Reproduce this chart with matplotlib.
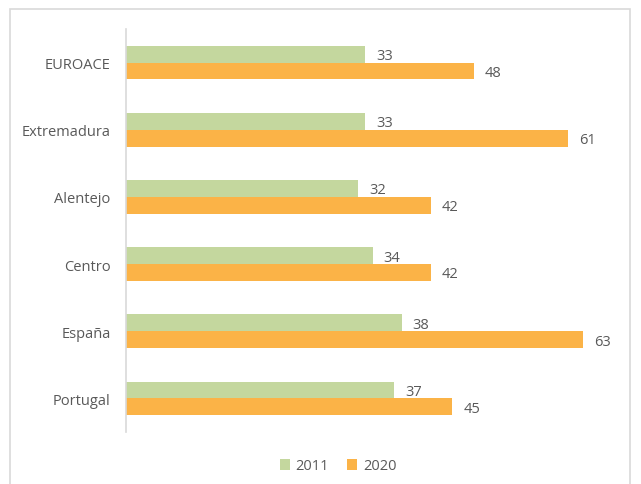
import numpy as np
import matplotlib.pyplot as plt
from matplotlib.patches import Rectangle

regions = ["EUROACE", "Extremadura", "Alentejo", "Centro", "España", "Portugal"]
vals_2011 = [33, 33, 32, 34, 38, 37]
vals_2020 = [48, 61, 42, 42, 63, 45]

GREEN = "#C4D79E"
ORANGE = "#FBB347"
TXT = "#595959"

plt.rcParams['font.family'] = ['Open Sans', 'DejaVu Sans']

fig = plt.figure(figsize=(6.41, 4.85), dpi=100)
ax = fig.add_axes([126 / 641, 1 - 433 / 485, (620 - 126) / 641, (433 - 30) / 485])

# chart border
fig.patches.append(Rectangle((10 / 641, -0.1), (630 - 10) / 641, 1.1 - 10 / 485,
                             transform=fig.transFigure, fill=False,
                             edgecolor="#D9D9D9", linewidth=1.2))

y = np.arange(len(regions))
h = 0.25
b1 = ax.barh(y - h / 2, vals_2011, height=h, color=GREEN, label="2011")
b2 = ax.barh(y + h / 2, vals_2020, height=h, color=ORANGE, label="2020")

for bars in (b1, b2):
    for r in bars:
        ax.annotate(f"{int(r.get_width())}", (r.get_width(), r.get_y() + r.get_height() / 2),
                    xytext=(8, -1), textcoords="offset points", va="center", ha="left",
                    fontsize=10.5, color=TXT)

ax.set_ylim(len(regions) - 0.5, -0.5)
ax.set_xlim(0, (620 - 126) / 7.25)
ax.set_yticks(y)
ax.set_yticklabels(regions, fontsize=10.5, color=TXT)
ax.set_xticks([])
ax.tick_params(axis="y", length=0, pad=11)
for s in ["top", "right", "bottom"]:
    ax.spines[s].set_visible(False)
ax.spines["left"].set_color("#D9D9D9")
ax.spines["left"].set_linewidth(1.2)

leg = fig.legend(handles=[b1, b2], loc="center", bbox_to_anchor=(338 / 641, 1 - 467 / 485),
                 ncol=2, frameon=False, fontsize=10.5, handlelength=0.7, handleheight=0.7,
                 columnspacing=1.2, handletextpad=0.4)
for t in leg.get_texts():
    t.set_color(TXT)

fig.savefig("out.png", dpi=100)
